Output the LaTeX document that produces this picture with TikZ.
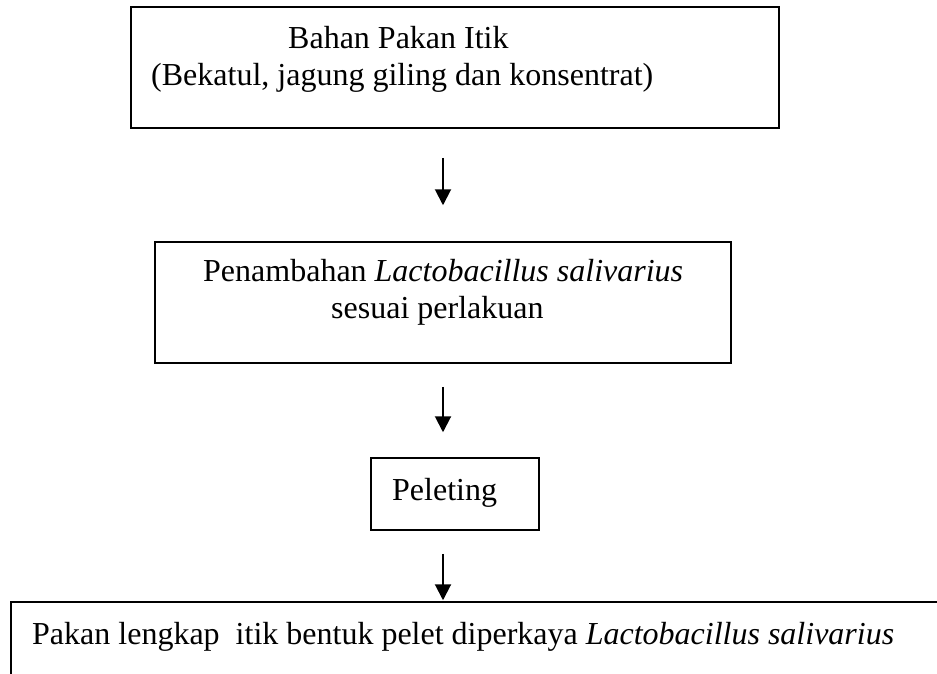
\documentclass[tikz,border=0pt]{standalone}
\usepackage{fontspec}
\setmainfont{Liberation Serif}
\usetikzlibrary{arrows.meta}
\begin{document}
\begin{tikzpicture}[x=1pt,y=-1pt,
  box/.style={draw=black,line width=1.5pt,rectangle,inner sep=0pt},
  lbl/.style={anchor=base west,inner sep=0pt,font=\fontsize{32}{38}\selectfont},
  flow/.style={line width=2pt,-{Triangle[length=16pt,width=16pt]}}]
\useasboundingbox (0,0) rectangle (937,673);
\clip (0,0) rectangle (937,673);
\node[box,minimum width=648pt,minimum height=121pt] (b1) at (455,67.5) {};
\node[box,minimum width=576pt,minimum height=121pt] (b2) at (443,302.5) {};
\node[box,minimum width=168pt,minimum height=72pt] (b3) at (455,494) {};
\node[box,minimum width=949pt,minimum height=98pt] (b4) at (485.5,651) {};
\node[lbl] (t1a) at (288,48) {Bahan Pakan Itik};
\node[lbl] (t1b) at (151,85) {(Bekatul, jagung giling dan konsentrat)};
\node[lbl] (t2a) at (203,281) {Penambahan \textit{Lactobacillus salivarius}};
\node[lbl] (t2b) at (331,318) {sesuai perlakuan};
\node[lbl] (t3) at (392,500) {Peleting};
\node[lbl] (t4) at (32,644) {Pakan lengkap\ \ itik bentuk pelet diperkaya \textit{Lactobacillus salivarius}};
\draw[flow,shorten <=29pt,shorten >=36pt] (b2.north |- b1.south) -- (b2.north);
\draw[flow,shorten <=23pt,shorten >=25pt] (b2.south) -- (b2.south |- b3.north);
\draw[flow,shorten <=23pt,shorten >=1pt] (b2.south |- b3.south) -- (b2.south |- b4.north);
\end{tikzpicture}
\end{document}
